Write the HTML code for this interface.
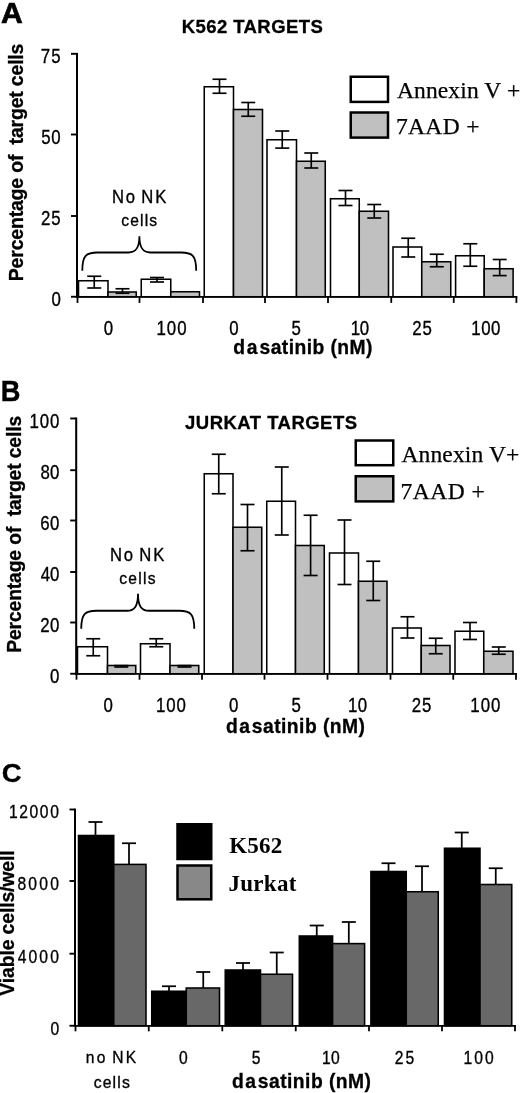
<!DOCTYPE html>
<html><head><meta charset="utf-8"><title>Figure</title>
<style>html,body{margin:0;padding:0;background:#fff}svg{display:block}</style></head>
<body>
<svg width="520" height="1093" viewBox="0 0 520 1093">
<rect width="520" height="1093" fill="#fff"/>
<text transform="translate(0.90,22.8) scale(1.03,1)" font-family='"Liberation Sans", Arial, Helvetica, sans-serif' font-size="29.2" font-weight="bold" letter-spacing="0" stroke="#000" stroke-width="0.7">A</text>
<text transform="translate(0.83,400.9) scale(0.95,1)" font-family='"Liberation Sans", Arial, Helvetica, sans-serif' font-size="28.7" font-weight="bold" letter-spacing="0" stroke="#000" stroke-width="0.4">B</text>
<text transform="translate(1.75,781.5) scale(1.05,1)" font-family='"Liberation Sans", Arial, Helvetica, sans-serif' font-size="26.2" font-weight="bold" letter-spacing="0" stroke="#000" stroke-width="0.3">C</text>
<rect x="78.5" y="280.75" width="29.5" height="16.0" fill="#fff" stroke="#000" stroke-width="1.55"/>
<rect x="108" y="292" width="28.25" height="4.75" fill="#c0c0c0" stroke="#000" stroke-width="1.55"/>
<rect x="141.25" y="279.25" width="29.5" height="17.5" fill="#fff" stroke="#000" stroke-width="1.55"/>
<rect x="170.75" y="291.75" width="28.75" height="5.0" fill="#c0c0c0" stroke="#000" stroke-width="1.55"/>
<rect x="204.25" y="86.75" width="29.25" height="210.0" fill="#fff" stroke="#000" stroke-width="1.55"/>
<rect x="233.5" y="109.5" width="29.0" height="187.25" fill="#c0c0c0" stroke="#000" stroke-width="1.55"/>
<rect x="267" y="139.75" width="29.5" height="157.0" fill="#fff" stroke="#000" stroke-width="1.55"/>
<rect x="296.5" y="161.25" width="28.75" height="135.5" fill="#c0c0c0" stroke="#000" stroke-width="1.55"/>
<rect x="330.5" y="198.75" width="28.75" height="98.0" fill="#fff" stroke="#000" stroke-width="1.55"/>
<rect x="359.25" y="211.25" width="29.25" height="85.5" fill="#c0c0c0" stroke="#000" stroke-width="1.55"/>
<rect x="393" y="247" width="28.75" height="49.75" fill="#fff" stroke="#000" stroke-width="1.55"/>
<rect x="421.75" y="261.75" width="29.0" height="35.0" fill="#c0c0c0" stroke="#000" stroke-width="1.55"/>
<rect x="455.6" y="255.75" width="28.6" height="41.0" fill="#fff" stroke="#000" stroke-width="1.55"/>
<rect x="484.2" y="268.75" width="28.9" height="28.0" fill="#c0c0c0" stroke="#000" stroke-width="1.55"/>
<line x1="94.25" y1="276.25" x2="94.25" y2="288" stroke="#000" stroke-width="1.65" stroke-linecap="butt"/>
<line x1="87.25" y1="276.25" x2="101.25" y2="276.25" stroke="#000" stroke-width="1.65" stroke-linecap="butt"/>
<line x1="87.25" y1="288" x2="101.25" y2="288" stroke="#000" stroke-width="1.65" stroke-linecap="butt"/>
<line x1="122.5" y1="288.75" x2="122.5" y2="293.25" stroke="#000" stroke-width="1.65" stroke-linecap="butt"/>
<line x1="115.5" y1="288.75" x2="129.5" y2="288.75" stroke="#000" stroke-width="1.65" stroke-linecap="butt"/>
<line x1="115.5" y1="293.25" x2="129.5" y2="293.25" stroke="#000" stroke-width="1.65" stroke-linecap="butt"/>
<line x1="157" y1="277.5" x2="157" y2="282" stroke="#000" stroke-width="1.65" stroke-linecap="butt"/>
<line x1="150" y1="277.5" x2="164" y2="277.5" stroke="#000" stroke-width="1.65" stroke-linecap="butt"/>
<line x1="150" y1="282" x2="164" y2="282" stroke="#000" stroke-width="1.65" stroke-linecap="butt"/>
<line x1="219.5" y1="79.25" x2="219.5" y2="93.25" stroke="#000" stroke-width="1.65" stroke-linecap="butt"/>
<line x1="212.5" y1="79.25" x2="226.5" y2="79.25" stroke="#000" stroke-width="1.65" stroke-linecap="butt"/>
<line x1="212.5" y1="93.25" x2="226.5" y2="93.25" stroke="#000" stroke-width="1.65" stroke-linecap="butt"/>
<line x1="248.25" y1="102.5" x2="248.25" y2="116.25" stroke="#000" stroke-width="1.65" stroke-linecap="butt"/>
<line x1="241.25" y1="102.5" x2="255.25" y2="102.5" stroke="#000" stroke-width="1.65" stroke-linecap="butt"/>
<line x1="241.25" y1="116.25" x2="255.25" y2="116.25" stroke="#000" stroke-width="1.65" stroke-linecap="butt"/>
<line x1="282.25" y1="131" x2="282.25" y2="148.1" stroke="#000" stroke-width="1.65" stroke-linecap="butt"/>
<line x1="275.25" y1="131" x2="289.25" y2="131" stroke="#000" stroke-width="1.65" stroke-linecap="butt"/>
<line x1="275.25" y1="148.1" x2="289.25" y2="148.1" stroke="#000" stroke-width="1.65" stroke-linecap="butt"/>
<line x1="311.25" y1="153" x2="311.25" y2="168" stroke="#000" stroke-width="1.65" stroke-linecap="butt"/>
<line x1="304.25" y1="153" x2="318.25" y2="153" stroke="#000" stroke-width="1.65" stroke-linecap="butt"/>
<line x1="304.25" y1="168" x2="318.25" y2="168" stroke="#000" stroke-width="1.65" stroke-linecap="butt"/>
<line x1="345.5" y1="190.5" x2="345.5" y2="205.5" stroke="#000" stroke-width="1.65" stroke-linecap="butt"/>
<line x1="338.5" y1="190.5" x2="352.5" y2="190.5" stroke="#000" stroke-width="1.65" stroke-linecap="butt"/>
<line x1="338.5" y1="205.5" x2="352.5" y2="205.5" stroke="#000" stroke-width="1.65" stroke-linecap="butt"/>
<line x1="374.25" y1="204.5" x2="374.25" y2="218" stroke="#000" stroke-width="1.65" stroke-linecap="butt"/>
<line x1="367.25" y1="204.5" x2="381.25" y2="204.5" stroke="#000" stroke-width="1.65" stroke-linecap="butt"/>
<line x1="367.25" y1="218" x2="381.25" y2="218" stroke="#000" stroke-width="1.65" stroke-linecap="butt"/>
<line x1="408.25" y1="238.25" x2="408.25" y2="257" stroke="#000" stroke-width="1.65" stroke-linecap="butt"/>
<line x1="401.25" y1="238.25" x2="415.25" y2="238.25" stroke="#000" stroke-width="1.65" stroke-linecap="butt"/>
<line x1="401.25" y1="257" x2="415.25" y2="257" stroke="#000" stroke-width="1.65" stroke-linecap="butt"/>
<line x1="436.75" y1="254.25" x2="436.75" y2="266.75" stroke="#000" stroke-width="1.65" stroke-linecap="butt"/>
<line x1="429.75" y1="254.25" x2="443.75" y2="254.25" stroke="#000" stroke-width="1.65" stroke-linecap="butt"/>
<line x1="429.75" y1="266.75" x2="443.75" y2="266.75" stroke="#000" stroke-width="1.65" stroke-linecap="butt"/>
<line x1="470.3" y1="243.75" x2="470.3" y2="266.25" stroke="#000" stroke-width="1.65" stroke-linecap="butt"/>
<line x1="463.3" y1="243.75" x2="477.3" y2="243.75" stroke="#000" stroke-width="1.65" stroke-linecap="butt"/>
<line x1="463.3" y1="266.25" x2="477.3" y2="266.25" stroke="#000" stroke-width="1.65" stroke-linecap="butt"/>
<line x1="499.7" y1="259.5" x2="499.7" y2="275.6" stroke="#000" stroke-width="1.65" stroke-linecap="butt"/>
<line x1="492.7" y1="259.5" x2="506.7" y2="259.5" stroke="#000" stroke-width="1.65" stroke-linecap="butt"/>
<line x1="492.7" y1="275.6" x2="506.7" y2="275.6" stroke="#000" stroke-width="1.65" stroke-linecap="butt"/>
<line x1="77" y1="52.9" x2="77" y2="297.65" stroke="#000" stroke-width="2.05" stroke-linecap="butt"/>
<line x1="76" y1="296.75" x2="517.3" y2="296.75" stroke="#000" stroke-width="1.75" stroke-linecap="butt"/>
<line x1="71" y1="53.8" x2="77" y2="53.8" stroke="#000" stroke-width="1.9" stroke-linecap="butt"/>
<line x1="71" y1="134.5" x2="77" y2="134.5" stroke="#000" stroke-width="1.9" stroke-linecap="butt"/>
<line x1="71" y1="216" x2="77" y2="216" stroke="#000" stroke-width="1.9" stroke-linecap="butt"/>
<line x1="71" y1="296.75" x2="77" y2="296.75" stroke="#000" stroke-width="1.9" stroke-linecap="butt"/>
<line x1="77.5" y1="296.75" x2="77.5" y2="302.9" stroke="#000" stroke-width="1.8" stroke-linecap="butt"/>
<line x1="139.5" y1="296.75" x2="139.5" y2="302.9" stroke="#000" stroke-width="1.8" stroke-linecap="butt"/>
<line x1="203" y1="296.75" x2="203" y2="302.9" stroke="#000" stroke-width="1.8" stroke-linecap="butt"/>
<line x1="265" y1="296.75" x2="265" y2="302.9" stroke="#000" stroke-width="1.8" stroke-linecap="butt"/>
<line x1="328" y1="296.75" x2="328" y2="302.9" stroke="#000" stroke-width="1.8" stroke-linecap="butt"/>
<line x1="391.25" y1="296.75" x2="391.25" y2="302.9" stroke="#000" stroke-width="1.8" stroke-linecap="butt"/>
<line x1="453.75" y1="296.75" x2="453.75" y2="302.9" stroke="#000" stroke-width="1.8" stroke-linecap="butt"/>
<line x1="516.4" y1="296.75" x2="516.4" y2="302.9" stroke="#000" stroke-width="1.8" stroke-linecap="butt"/>
<text transform="translate(40.83,62.9) scale(0.86,1)" font-family='"Liberation Sans", Arial, Helvetica, sans-serif' font-size="19.6" font-weight="normal" letter-spacing="1.345" stroke="#000" stroke-width="0.35">75</text>
<text transform="translate(41.20,143.6) scale(0.86,1)" font-family='"Liberation Sans", Arial, Helvetica, sans-serif' font-size="19.6" font-weight="normal" letter-spacing="0.819" stroke="#000" stroke-width="0.35">50</text>
<text transform="translate(41.03,225.1) scale(0.86,1)" font-family='"Liberation Sans", Arial, Helvetica, sans-serif' font-size="19.6" font-weight="normal" letter-spacing="1.113" stroke="#000" stroke-width="0.35">25</text>
<text transform="translate(51.50,305.8) scale(0.86,1)" font-family='"Liberation Sans", Arial, Helvetica, sans-serif' font-size="19.6" font-weight="normal" letter-spacing="0" stroke="#000" stroke-width="0.35">0</text>
<text transform="translate(103.75,334.5) scale(0.86,1)" font-family='"Liberation Sans", Arial, Helvetica, sans-serif' font-size="19.6" font-weight="normal" letter-spacing="0" stroke="#000" stroke-width="0.35">0</text>
<text transform="translate(156.41,334.5) scale(0.86,1)" font-family='"Liberation Sans", Arial, Helvetica, sans-serif' font-size="19.6" font-weight="normal" letter-spacing="1.273" stroke="#000" stroke-width="0.35">100</text>
<text transform="translate(229.30,334.5) scale(0.86,1)" font-family='"Liberation Sans", Arial, Helvetica, sans-serif' font-size="19.6" font-weight="normal" letter-spacing="0" stroke="#000" stroke-width="0.35">0</text>
<text transform="translate(291.40,334.5) scale(0.86,1)" font-family='"Liberation Sans", Arial, Helvetica, sans-serif' font-size="19.6" font-weight="normal" letter-spacing="0" stroke="#000" stroke-width="0.35">5</text>
<text transform="translate(350.81,334.5) scale(0.86,1)" font-family='"Liberation Sans", Arial, Helvetica, sans-serif' font-size="19.6" font-weight="normal" letter-spacing="-0.356" stroke="#000" stroke-width="0.35">10</text>
<text transform="translate(412.23,334.5) scale(0.86,1)" font-family='"Liberation Sans", Arial, Helvetica, sans-serif' font-size="19.6" font-weight="normal" letter-spacing="1.113" stroke="#000" stroke-width="0.35">25</text>
<text transform="translate(471.21,334.5) scale(0.86,1)" font-family='"Liberation Sans", Arial, Helvetica, sans-serif' font-size="19.6" font-weight="normal" letter-spacing="0.662" stroke="#000" stroke-width="0.35">100</text>
<text transform="translate(181.65,32.8)" font-family='"Liberation Sans", Arial, Helvetica, sans-serif' font-size="18.5" font-weight="bold" letter-spacing="0.437" stroke="#000" stroke-width="0.3">K562 TARGETS</text>
<text y="354.2" font-family='"Liberation Sans", Arial, Helvetica, sans-serif' font-size="19.3" font-weight="bold" stroke="#000" stroke-width="0.3"><tspan x="233.18" letter-spacing="1.874">das</tspan><tspan x="270.67" letter-spacing="0.438">atinib (nM)</tspan></text>
<text transform="translate(23.4,281.22) rotate(-90)" font-family='"Liberation Sans", Arial, Helvetica, sans-serif' font-size="19.5" font-weight="bold" letter-spacing="-0.197" stroke="#000" stroke-width="0.3" xml:space="preserve">Percentage of  target cells</text>
<text transform="translate(111.94,202.6) scale(0.92,1)" font-family='"Liberation Sans", Arial, Helvetica, sans-serif' font-size="18.1" font-weight="normal" letter-spacing="1.917" word-spacing="-1.917" stroke="#000" stroke-width="0.35">No NK</text>
<text transform="translate(121.27,225.7) scale(0.95,1)" font-family='"Liberation Sans", Arial, Helvetica, sans-serif' font-size="16.4" font-weight="normal" letter-spacing="1.246" stroke="#000" stroke-width="0.35">cells</text>
<path d="M82.3,270.7 C82.3,255.5 86.3,252.5 97.3,252.5 L128.4,252.5 C135.9,252.5 139.4,248.0 139.4,236.3 C139.4,248.0 142.9,252.5 150.4,252.5 L181.2,252.5 C192.2,252.5 196.2,255.5 196.2,270.7" fill="none" stroke="#000" stroke-width="1.8"/>
<rect x="350.75" y="76.75" width="37.25" height="25.15" fill="#fff" stroke="#000" stroke-width="2.5"/>
<rect x="350.75" y="112.5" width="37.25" height="25.1" fill="#c0c0c0" stroke="#000" stroke-width="2.5"/>
<text transform="translate(396.89,97.6)" font-family='"Liberation Serif", "Times New Roman", Times, serif' font-size="23.5" font-weight="normal" letter-spacing="0.138" stroke="#000" stroke-width="0.25">Annexin V +</text>
<text transform="translate(395.90,134.4)" font-family='"Liberation Serif", "Times New Roman", Times, serif' font-size="23.5" font-weight="normal" letter-spacing="0.374" stroke="#000" stroke-width="0.25">7AAD +</text>
<rect x="77.5" y="646.75" width="30.0" height="27.0" fill="#fff" stroke="#000" stroke-width="1.55"/>
<rect x="107.5" y="665.5" width="28.25" height="8.25" fill="#c0c0c0" stroke="#000" stroke-width="1.55"/>
<rect x="140.5" y="643.75" width="29.5" height="30.0" fill="#fff" stroke="#000" stroke-width="1.55"/>
<rect x="170" y="665.5" width="28.75" height="8.25" fill="#c0c0c0" stroke="#000" stroke-width="1.55"/>
<rect x="204.25" y="473.75" width="28.75" height="200.0" fill="#fff" stroke="#000" stroke-width="1.55"/>
<rect x="233" y="527.25" width="28.75" height="146.5" fill="#c0c0c0" stroke="#000" stroke-width="1.55"/>
<rect x="266.75" y="501.25" width="28.75" height="172.5" fill="#fff" stroke="#000" stroke-width="1.55"/>
<rect x="295.5" y="545.5" width="28.75" height="128.25" fill="#c0c0c0" stroke="#000" stroke-width="1.55"/>
<rect x="329.5" y="553" width="29.0" height="120.75" fill="#fff" stroke="#000" stroke-width="1.55"/>
<rect x="358.5" y="581.25" width="28.5" height="92.5" fill="#c0c0c0" stroke="#000" stroke-width="1.55"/>
<rect x="392.5" y="628" width="28.75" height="45.75" fill="#fff" stroke="#000" stroke-width="1.55"/>
<rect x="421.25" y="645.5" width="28.75" height="28.25" fill="#c0c0c0" stroke="#000" stroke-width="1.55"/>
<rect x="455" y="631.25" width="28.75" height="42.5" fill="#fff" stroke="#000" stroke-width="1.55"/>
<rect x="483.75" y="651.25" width="29.25" height="22.5" fill="#c0c0c0" stroke="#000" stroke-width="1.55"/>
<line x1="93.25" y1="638.75" x2="93.25" y2="655.75" stroke="#000" stroke-width="1.65" stroke-linecap="butt"/>
<line x1="86.25" y1="638.75" x2="100.25" y2="638.75" stroke="#000" stroke-width="1.65" stroke-linecap="butt"/>
<line x1="86.25" y1="655.75" x2="100.25" y2="655.75" stroke="#000" stroke-width="1.65" stroke-linecap="butt"/>
<line x1="121.25" y1="665.6" x2="121.25" y2="667" stroke="#000" stroke-width="1.65" stroke-linecap="butt"/>
<line x1="114.25" y1="665.6" x2="128.25" y2="665.6" stroke="#000" stroke-width="1.65" stroke-linecap="butt"/>
<line x1="114.25" y1="667" x2="128.25" y2="667" stroke="#000" stroke-width="1.65" stroke-linecap="butt"/>
<line x1="156.25" y1="638.75" x2="156.25" y2="646.75" stroke="#000" stroke-width="1.65" stroke-linecap="butt"/>
<line x1="149.25" y1="638.75" x2="163.25" y2="638.75" stroke="#000" stroke-width="1.65" stroke-linecap="butt"/>
<line x1="149.25" y1="646.75" x2="163.25" y2="646.75" stroke="#000" stroke-width="1.65" stroke-linecap="butt"/>
<line x1="184.5" y1="665.6" x2="184.5" y2="667" stroke="#000" stroke-width="1.65" stroke-linecap="butt"/>
<line x1="177.5" y1="665.6" x2="191.5" y2="665.6" stroke="#000" stroke-width="1.65" stroke-linecap="butt"/>
<line x1="177.5" y1="667" x2="191.5" y2="667" stroke="#000" stroke-width="1.65" stroke-linecap="butt"/>
<line x1="218.75" y1="454.25" x2="218.75" y2="493.75" stroke="#000" stroke-width="1.65" stroke-linecap="butt"/>
<line x1="211.75" y1="454.25" x2="225.75" y2="454.25" stroke="#000" stroke-width="1.65" stroke-linecap="butt"/>
<line x1="211.75" y1="493.75" x2="225.75" y2="493.75" stroke="#000" stroke-width="1.65" stroke-linecap="butt"/>
<line x1="247.5" y1="504.5" x2="247.5" y2="550.75" stroke="#000" stroke-width="1.65" stroke-linecap="butt"/>
<line x1="240.5" y1="504.5" x2="254.5" y2="504.5" stroke="#000" stroke-width="1.65" stroke-linecap="butt"/>
<line x1="240.5" y1="550.75" x2="254.5" y2="550.75" stroke="#000" stroke-width="1.65" stroke-linecap="butt"/>
<line x1="281.75" y1="467" x2="281.75" y2="535" stroke="#000" stroke-width="1.65" stroke-linecap="butt"/>
<line x1="274.75" y1="467" x2="288.75" y2="467" stroke="#000" stroke-width="1.65" stroke-linecap="butt"/>
<line x1="274.75" y1="535" x2="288.75" y2="535" stroke="#000" stroke-width="1.65" stroke-linecap="butt"/>
<line x1="310.6" y1="515.25" x2="310.6" y2="575.5" stroke="#000" stroke-width="1.65" stroke-linecap="butt"/>
<line x1="303.6" y1="515.25" x2="317.6" y2="515.25" stroke="#000" stroke-width="1.65" stroke-linecap="butt"/>
<line x1="303.6" y1="575.5" x2="317.6" y2="575.5" stroke="#000" stroke-width="1.65" stroke-linecap="butt"/>
<line x1="344.5" y1="520" x2="344.5" y2="584.5" stroke="#000" stroke-width="1.65" stroke-linecap="butt"/>
<line x1="337.5" y1="520" x2="351.5" y2="520" stroke="#000" stroke-width="1.65" stroke-linecap="butt"/>
<line x1="337.5" y1="584.5" x2="351.5" y2="584.5" stroke="#000" stroke-width="1.65" stroke-linecap="butt"/>
<line x1="373.25" y1="561.25" x2="373.25" y2="600.5" stroke="#000" stroke-width="1.65" stroke-linecap="butt"/>
<line x1="366.25" y1="561.25" x2="380.25" y2="561.25" stroke="#000" stroke-width="1.65" stroke-linecap="butt"/>
<line x1="366.25" y1="600.5" x2="380.25" y2="600.5" stroke="#000" stroke-width="1.65" stroke-linecap="butt"/>
<line x1="407.5" y1="616.75" x2="407.5" y2="638" stroke="#000" stroke-width="1.65" stroke-linecap="butt"/>
<line x1="400.5" y1="616.75" x2="414.5" y2="616.75" stroke="#000" stroke-width="1.65" stroke-linecap="butt"/>
<line x1="400.5" y1="638" x2="414.5" y2="638" stroke="#000" stroke-width="1.65" stroke-linecap="butt"/>
<line x1="435.75" y1="638.25" x2="435.75" y2="653.75" stroke="#000" stroke-width="1.65" stroke-linecap="butt"/>
<line x1="428.75" y1="638.25" x2="442.75" y2="638.25" stroke="#000" stroke-width="1.65" stroke-linecap="butt"/>
<line x1="428.75" y1="653.75" x2="442.75" y2="653.75" stroke="#000" stroke-width="1.65" stroke-linecap="butt"/>
<line x1="470" y1="622.5" x2="470" y2="639.5" stroke="#000" stroke-width="1.65" stroke-linecap="butt"/>
<line x1="463" y1="622.5" x2="477" y2="622.5" stroke="#000" stroke-width="1.65" stroke-linecap="butt"/>
<line x1="463" y1="639.5" x2="477" y2="639.5" stroke="#000" stroke-width="1.65" stroke-linecap="butt"/>
<line x1="498.75" y1="647" x2="498.75" y2="654.25" stroke="#000" stroke-width="1.65" stroke-linecap="butt"/>
<line x1="491.75" y1="647" x2="505.75" y2="647" stroke="#000" stroke-width="1.65" stroke-linecap="butt"/>
<line x1="491.75" y1="654.25" x2="505.75" y2="654.25" stroke="#000" stroke-width="1.65" stroke-linecap="butt"/>
<line x1="76.2" y1="417.6" x2="76.2" y2="674.65" stroke="#000" stroke-width="2.05" stroke-linecap="butt"/>
<line x1="75.2" y1="673.75" x2="516.9" y2="673.75" stroke="#000" stroke-width="1.75" stroke-linecap="butt"/>
<line x1="70.2" y1="418.5" x2="76.2" y2="418.5" stroke="#000" stroke-width="1.9" stroke-linecap="butt"/>
<line x1="70.2" y1="470.2" x2="76.2" y2="470.2" stroke="#000" stroke-width="1.9" stroke-linecap="butt"/>
<line x1="70.2" y1="520.5" x2="76.2" y2="520.5" stroke="#000" stroke-width="1.9" stroke-linecap="butt"/>
<line x1="70.2" y1="572" x2="76.2" y2="572" stroke="#000" stroke-width="1.9" stroke-linecap="butt"/>
<line x1="70.2" y1="622.5" x2="76.2" y2="622.5" stroke="#000" stroke-width="1.9" stroke-linecap="butt"/>
<line x1="70.2" y1="673.75" x2="76.2" y2="673.75" stroke="#000" stroke-width="1.9" stroke-linecap="butt"/>
<line x1="76.5" y1="673.75" x2="76.5" y2="679.7" stroke="#000" stroke-width="1.8" stroke-linecap="butt"/>
<line x1="139.5" y1="673.75" x2="139.5" y2="679.7" stroke="#000" stroke-width="1.8" stroke-linecap="butt"/>
<line x1="202" y1="673.75" x2="202" y2="679.7" stroke="#000" stroke-width="1.8" stroke-linecap="butt"/>
<line x1="264.5" y1="673.75" x2="264.5" y2="679.7" stroke="#000" stroke-width="1.8" stroke-linecap="butt"/>
<line x1="327.5" y1="673.75" x2="327.5" y2="679.7" stroke="#000" stroke-width="1.8" stroke-linecap="butt"/>
<line x1="390.5" y1="673.75" x2="390.5" y2="679.7" stroke="#000" stroke-width="1.8" stroke-linecap="butt"/>
<line x1="453.25" y1="673.75" x2="453.25" y2="679.7" stroke="#000" stroke-width="1.8" stroke-linecap="butt"/>
<line x1="516" y1="673.75" x2="516" y2="679.7" stroke="#000" stroke-width="1.8" stroke-linecap="butt"/>
<text transform="translate(29.51,427.7) scale(0.86,1)" font-family='"Liberation Sans", Arial, Helvetica, sans-serif' font-size="19.6" font-weight="normal" letter-spacing="1.069" stroke="#000" stroke-width="0.35">100</text>
<text transform="translate(40.42,479.4) scale(0.86,1)" font-family='"Liberation Sans", Arial, Helvetica, sans-serif' font-size="19.6" font-weight="normal" letter-spacing="0.335" stroke="#000" stroke-width="0.35">80</text>
<text transform="translate(40.33,529.7) scale(0.86,1)" font-family='"Liberation Sans", Arial, Helvetica, sans-serif' font-size="19.6" font-weight="normal" letter-spacing="0.433" stroke="#000" stroke-width="0.35">60</text>
<text transform="translate(40.75,581.2) scale(0.86,1)" font-family='"Liberation Sans", Arial, Helvetica, sans-serif' font-size="19.6" font-weight="normal" letter-spacing="-0.057" stroke="#000" stroke-width="0.35">40</text>
<text transform="translate(40.33,631.7) scale(0.86,1)" font-family='"Liberation Sans", Arial, Helvetica, sans-serif' font-size="19.6" font-weight="normal" letter-spacing="0.433" stroke="#000" stroke-width="0.35">20</text>
<text transform="translate(50.10,682.95) scale(0.86,1)" font-family='"Liberation Sans", Arial, Helvetica, sans-serif' font-size="19.6" font-weight="normal" letter-spacing="0" stroke="#000" stroke-width="0.35">0</text>
<text transform="translate(103.50,712.1) scale(0.86,1)" font-family='"Liberation Sans", Arial, Helvetica, sans-serif' font-size="19.6" font-weight="normal" letter-spacing="0" stroke="#000" stroke-width="0.35">0</text>
<text transform="translate(155.91,712.1) scale(0.86,1)" font-family='"Liberation Sans", Arial, Helvetica, sans-serif' font-size="19.6" font-weight="normal" letter-spacing="1.127" stroke="#000" stroke-width="0.35">100</text>
<text transform="translate(229.10,712.1) scale(0.86,1)" font-family='"Liberation Sans", Arial, Helvetica, sans-serif' font-size="19.6" font-weight="normal" letter-spacing="0" stroke="#000" stroke-width="0.35">0</text>
<text transform="translate(291.50,712.1) scale(0.86,1)" font-family='"Liberation Sans", Arial, Helvetica, sans-serif' font-size="19.6" font-weight="normal" letter-spacing="0" stroke="#000" stroke-width="0.35">5</text>
<text transform="translate(348.11,712.1) scale(0.86,1)" font-family='"Liberation Sans", Arial, Helvetica, sans-serif' font-size="19.6" font-weight="normal" letter-spacing="0.226" stroke="#000" stroke-width="0.35">10</text>
<text transform="translate(411.63,712.1) scale(0.86,1)" font-family='"Liberation Sans", Arial, Helvetica, sans-serif' font-size="19.6" font-weight="normal" letter-spacing="1.113" stroke="#000" stroke-width="0.35">25</text>
<text transform="translate(470.31,712.1) scale(0.86,1)" font-family='"Liberation Sans", Arial, Helvetica, sans-serif' font-size="19.6" font-weight="normal" letter-spacing="1.185" stroke="#000" stroke-width="0.35">100</text>
<text transform="translate(185.07,429.4)" font-family='"Liberation Sans", Arial, Helvetica, sans-serif' font-size="18.5" font-weight="bold" letter-spacing="0.474" stroke="#000" stroke-width="0.3">JURKAT TARGETS</text>
<text y="732.8" font-family='"Liberation Sans", Arial, Helvetica, sans-serif' font-size="19.3" font-weight="bold" stroke="#000" stroke-width="0.3"><tspan x="225.88" letter-spacing="1.674">das</tspan><tspan x="262.97" letter-spacing="0.458">atinib (nM)</tspan></text>
<text transform="translate(20.9,652.80) rotate(-90)" font-family='"Liberation Sans", Arial, Helvetica, sans-serif' font-size="19.3" font-weight="bold" letter-spacing="-0.118" stroke="#000" stroke-width="0.3" xml:space="preserve">Percentage of  target cells</text>
<text transform="translate(109.94,560.5) scale(0.92,1)" font-family='"Liberation Sans", Arial, Helvetica, sans-serif' font-size="18.1" font-weight="normal" letter-spacing="1.917" word-spacing="-1.917" stroke="#000" stroke-width="0.35">No NK</text>
<text transform="translate(119.27,583.7) scale(0.95,1)" font-family='"Liberation Sans", Arial, Helvetica, sans-serif' font-size="16.4" font-weight="normal" letter-spacing="1.325" stroke="#000" stroke-width="0.35">cells</text>
<path d="M81.25,628.75 C81.25,613.75 85.25,610.75 96.25,610.75 L127,610.75 C134.5,610.75 138,606.25 138,593.75 C138,606.25 141.5,610.75 149,610.75 L179.25,610.75 C190.25,610.75 194.25,613.75 194.25,628.75" fill="none" stroke="#000" stroke-width="1.8"/>
<rect x="355.75" y="440.5" width="37.5" height="24.7" fill="#fff" stroke="#000" stroke-width="2.5"/>
<rect x="355.75" y="476.25" width="37.5" height="25.15" fill="#c0c0c0" stroke="#000" stroke-width="2.5"/>
<text transform="translate(401.49,462)" font-family='"Liberation Serif", "Times New Roman", Times, serif' font-size="23.5" font-weight="normal" letter-spacing="0.131" stroke="#000" stroke-width="0.25">Annexin V+</text>
<text transform="translate(400.60,498.6)" font-family='"Liberation Serif", "Times New Roman", Times, serif' font-size="23.5" font-weight="normal" letter-spacing="0.474" stroke="#000" stroke-width="0.25">7AAD +</text>
<rect x="78.5" y="835.5" width="35.25" height="190.25" fill="#000" stroke="#000" stroke-width="1.55"/>
<rect x="113.75" y="864.4" width="32.25" height="161.35" fill="#686868" stroke="#000" stroke-width="1.55"/>
<rect x="151.75" y="991.25" width="34.5" height="34.5" fill="#000" stroke="#000" stroke-width="1.55"/>
<rect x="186.25" y="988" width="33.25" height="37.75" fill="#686868" stroke="#000" stroke-width="1.55"/>
<rect x="225.25" y="970" width="35.25" height="55.75" fill="#000" stroke="#000" stroke-width="1.55"/>
<rect x="260.5" y="974.25" width="32.0" height="51.5" fill="#686868" stroke="#000" stroke-width="1.55"/>
<rect x="299.3" y="936" width="33.3" height="89.75" fill="#000" stroke="#000" stroke-width="1.55"/>
<rect x="332.6" y="943.6" width="32.0" height="82.15" fill="#686868" stroke="#000" stroke-width="1.55"/>
<rect x="370.9" y="871.5" width="35.35" height="154.25" fill="#000" stroke="#000" stroke-width="1.55"/>
<rect x="406.25" y="891.75" width="32.0" height="134.0" fill="#686868" stroke="#000" stroke-width="1.55"/>
<rect x="444.5" y="848.25" width="35.5" height="177.5" fill="#000" stroke="#000" stroke-width="1.55"/>
<rect x="480" y="884.5" width="31.75" height="141.25" fill="#686868" stroke="#000" stroke-width="1.55"/>
<line x1="95.5" y1="822" x2="95.5" y2="835.5" stroke="#000" stroke-width="1.75" stroke-linecap="butt"/>
<line x1="88.5" y1="822" x2="102.5" y2="822" stroke="#000" stroke-width="1.75" stroke-linecap="butt"/>
<line x1="129" y1="843.25" x2="129" y2="864.4" stroke="#000" stroke-width="1.75" stroke-linecap="butt"/>
<line x1="122" y1="843.25" x2="136" y2="843.25" stroke="#000" stroke-width="1.75" stroke-linecap="butt"/>
<line x1="169" y1="986.25" x2="169" y2="991.25" stroke="#000" stroke-width="1.75" stroke-linecap="butt"/>
<line x1="162" y1="986.25" x2="176" y2="986.25" stroke="#000" stroke-width="1.75" stroke-linecap="butt"/>
<line x1="203.25" y1="972" x2="203.25" y2="988" stroke="#000" stroke-width="1.75" stroke-linecap="butt"/>
<line x1="196.25" y1="972" x2="210.25" y2="972" stroke="#000" stroke-width="1.75" stroke-linecap="butt"/>
<line x1="243" y1="963" x2="243" y2="970" stroke="#000" stroke-width="1.75" stroke-linecap="butt"/>
<line x1="236" y1="963" x2="250" y2="963" stroke="#000" stroke-width="1.75" stroke-linecap="butt"/>
<line x1="276.75" y1="952.5" x2="276.75" y2="974.25" stroke="#000" stroke-width="1.75" stroke-linecap="butt"/>
<line x1="269.75" y1="952.5" x2="283.75" y2="952.5" stroke="#000" stroke-width="1.75" stroke-linecap="butt"/>
<line x1="316.75" y1="925.5" x2="316.75" y2="936" stroke="#000" stroke-width="1.75" stroke-linecap="butt"/>
<line x1="309.75" y1="925.5" x2="323.75" y2="925.5" stroke="#000" stroke-width="1.75" stroke-linecap="butt"/>
<line x1="348.8" y1="922" x2="348.8" y2="943.6" stroke="#000" stroke-width="1.75" stroke-linecap="butt"/>
<line x1="341.8" y1="922" x2="355.8" y2="922" stroke="#000" stroke-width="1.75" stroke-linecap="butt"/>
<line x1="388.5" y1="863.25" x2="388.5" y2="871.5" stroke="#000" stroke-width="1.75" stroke-linecap="butt"/>
<line x1="381.5" y1="863.25" x2="395.5" y2="863.25" stroke="#000" stroke-width="1.75" stroke-linecap="butt"/>
<line x1="422" y1="866.25" x2="422" y2="891.75" stroke="#000" stroke-width="1.75" stroke-linecap="butt"/>
<line x1="415" y1="866.25" x2="429" y2="866.25" stroke="#000" stroke-width="1.75" stroke-linecap="butt"/>
<line x1="461.75" y1="832.5" x2="461.75" y2="848.25" stroke="#000" stroke-width="1.75" stroke-linecap="butt"/>
<line x1="454.75" y1="832.5" x2="468.75" y2="832.5" stroke="#000" stroke-width="1.75" stroke-linecap="butt"/>
<line x1="495.75" y1="868.25" x2="495.75" y2="884.5" stroke="#000" stroke-width="1.75" stroke-linecap="butt"/>
<line x1="488.75" y1="868.25" x2="502.75" y2="868.25" stroke="#000" stroke-width="1.75" stroke-linecap="butt"/>
<line x1="75" y1="808.6" x2="75" y2="1026.65" stroke="#000" stroke-width="2.05" stroke-linecap="butt"/>
<line x1="74" y1="1025.75" x2="515.9" y2="1025.75" stroke="#000" stroke-width="1.75" stroke-linecap="butt"/>
<line x1="69.5" y1="809.5" x2="75" y2="809.5" stroke="#000" stroke-width="1.9" stroke-linecap="butt"/>
<line x1="69.5" y1="881" x2="75" y2="881" stroke="#000" stroke-width="1.9" stroke-linecap="butt"/>
<line x1="69.5" y1="953.7" x2="75" y2="953.7" stroke="#000" stroke-width="1.9" stroke-linecap="butt"/>
<line x1="69.5" y1="1025.75" x2="75" y2="1025.75" stroke="#000" stroke-width="1.9" stroke-linecap="butt"/>
<line x1="75.5" y1="1025.75" x2="75.5" y2="1031.3" stroke="#000" stroke-width="1.8" stroke-linecap="butt"/>
<line x1="148.75" y1="1025.75" x2="148.75" y2="1031.3" stroke="#000" stroke-width="1.8" stroke-linecap="butt"/>
<line x1="222.3" y1="1025.75" x2="222.3" y2="1031.3" stroke="#000" stroke-width="1.8" stroke-linecap="butt"/>
<line x1="295.75" y1="1025.75" x2="295.75" y2="1031.3" stroke="#000" stroke-width="1.8" stroke-linecap="butt"/>
<line x1="369" y1="1025.75" x2="369" y2="1031.3" stroke="#000" stroke-width="1.8" stroke-linecap="butt"/>
<line x1="442" y1="1025.75" x2="442" y2="1031.3" stroke="#000" stroke-width="1.8" stroke-linecap="butt"/>
<line x1="515" y1="1025.75" x2="515" y2="1031.3" stroke="#000" stroke-width="1.8" stroke-linecap="butt"/>
<text transform="translate(8.90,818.3) scale(0.86,1)" font-family='"Liberation Sans", Arial, Helvetica, sans-serif' font-size="18.2" font-weight="normal" letter-spacing="1.871" stroke="#000" stroke-width="0.35">12000</text>
<text transform="translate(17.47,889.8) scale(0.86,1)" font-family='"Liberation Sans", Arial, Helvetica, sans-serif' font-size="18.2" font-weight="normal" letter-spacing="2.541" stroke="#000" stroke-width="0.35">8000</text>
<text transform="translate(17.78,962.5) scale(0.86,1)" font-family='"Liberation Sans", Arial, Helvetica, sans-serif' font-size="18.2" font-weight="normal" letter-spacing="2.419" stroke="#000" stroke-width="0.35">4000</text>
<text transform="translate(50.55,1034.55) scale(0.86,1)" font-family='"Liberation Sans", Arial, Helvetica, sans-serif' font-size="18.2" font-weight="normal" letter-spacing="0" stroke="#000" stroke-width="0.35">0</text>
<text transform="translate(179.05,1063.8) scale(0.86,1)" font-family='"Liberation Sans", Arial, Helvetica, sans-serif' font-size="18.2" font-weight="normal" letter-spacing="0" stroke="#000" stroke-width="0.35">0</text>
<text transform="translate(251.85,1063.8) scale(0.86,1)" font-family='"Liberation Sans", Arial, Helvetica, sans-serif' font-size="18.2" font-weight="normal" letter-spacing="0" stroke="#000" stroke-width="0.35">5</text>
<text transform="translate(322.00,1063.8) scale(0.86,1)" font-family='"Liberation Sans", Arial, Helvetica, sans-serif' font-size="18.2" font-weight="normal" letter-spacing="0.463" stroke="#000" stroke-width="0.35">10</text>
<text transform="translate(394.79,1063.8) scale(0.86,1)" font-family='"Liberation Sans", Arial, Helvetica, sans-serif' font-size="18.2" font-weight="normal" letter-spacing="2.424" stroke="#000" stroke-width="0.35">25</text>
<text transform="translate(463.60,1063.8) scale(0.86,1)" font-family='"Liberation Sans", Arial, Helvetica, sans-serif' font-size="18.2" font-weight="normal" letter-spacing="2.274" stroke="#000" stroke-width="0.35">100</text>
<text transform="translate(85.86,1063.2) scale(0.9,1)" font-family='"Liberation Sans", Arial, Helvetica, sans-serif' font-size="17.3" font-weight="normal" letter-spacing="2.597" word-spacing="-2.597" stroke="#000" stroke-width="0.35">no NK</text>
<text transform="translate(93.67,1088) scale(0.95,1)" font-family='"Liberation Sans", Arial, Helvetica, sans-serif' font-size="16.6" font-weight="normal" letter-spacing="1.203" stroke="#000" stroke-width="0.35">cells</text>
<text y="1087.5" font-family='"Liberation Sans", Arial, Helvetica, sans-serif' font-size="19.3" font-weight="bold" stroke="#000" stroke-width="0.3"><tspan x="231.88" letter-spacing="1.674">das</tspan><tspan x="268.97" letter-spacing="0.458">atinib (nM)</tspan></text>
<text transform="translate(14.3,995.65) rotate(-90)" font-family='"Liberation Sans", Arial, Helvetica, sans-serif' font-size="19.5" font-weight="bold" letter-spacing="-0.178" stroke="#000" stroke-width="0.3">Viable cells/well</text>
<rect x="177.5" y="824.25" width="33.75" height="34.75" fill="#000" stroke="#000" stroke-width="2.5"/>
<rect x="177.5" y="865.5" width="33.75" height="33.8" fill="#888888" stroke="#000" stroke-width="2.5"/>
<text transform="translate(229.16,852.5)" font-family='"Liberation Serif", "Times New Roman", Times, serif' font-size="23" font-weight="bold" letter-spacing="0.23">K562</text>
<text transform="translate(228.47,891.25)" font-family='"Liberation Serif", "Times New Roman", Times, serif' font-size="23" font-weight="bold" letter-spacing="0.286">Jurkat</text>
</svg>
</body></html>
